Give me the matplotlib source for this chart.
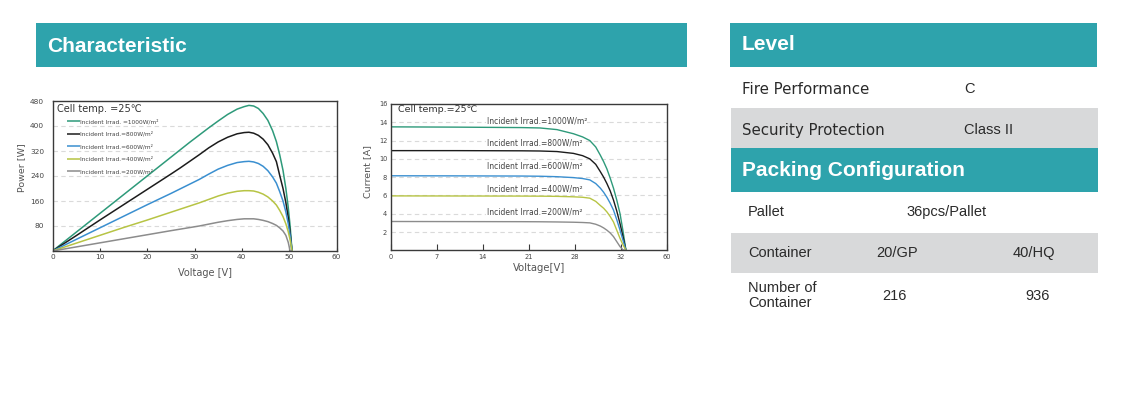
import matplotlib
matplotlib.use("Agg")
import matplotlib.pyplot as plt
from matplotlib.patches import Rectangle

W, H = 1137, 397

# ---------------- P-V chart data ----------------
pv_voltage = [0, 5, 10, 15, 20, 25, 27, 29, 31, 33, 35, 37, 39, 40.5, 41.5, 42.5,
              43.5, 44.5, 45.5, 46.5, 47.3, 48.0, 48.7, 49.3, 49.8, 50.2, 50.6]
pv_power_1000 = [0, 60, 120, 180, 240, 300, 324, 348, 371, 394, 416, 437, 454, 462, 466, 464,
                 456, 440, 418, 385, 350, 308, 258, 200, 140, 80, 0]
pv_power_800 = [0, 49, 99, 148, 197, 246, 266, 287, 308, 330, 349, 364, 375, 379, 380, 377,
                370, 358, 340, 313, 286, 242, 200, 155, 108, 60, 0]
pv_power_600 = [0, 37, 74, 111, 148, 184, 199, 214, 229, 246, 262, 274, 283, 286, 287, 285,
                280, 271, 257, 237, 217, 190, 160, 125, 88, 50, 0]
pv_power_400 = [0, 25, 50, 75, 99, 124, 134, 144, 154, 165, 176, 185, 191, 193, 193, 192,
                188, 182, 173, 160, 147, 130, 110, 87, 62, 36, 0]
pv_power_200 = [0, 13, 26, 39, 52, 65, 70, 75, 80, 86, 92, 97, 101, 103, 103, 103,
                101, 98, 94, 88, 82, 74, 64, 50, 28, 0, 0]
pv_labels = ["Incident Irrad. =1000W/m²", "Incident Irrad.=800W/m²",
             "Incident Irrad.=600W/m²", "Incident Irrad.=400W/m²",
             "Incident Irrad.=200W/m²"]
pv_xticks = [0, 10, 20, 30, 40, 50, 60]
pv_yticks = [80, 160, 240, 320, 400, 480]

# ---------------- I-V chart data ----------------
# voltage expressed in the chart's (irregularly labelled) axis positions
iv_voltage_pos = [0, 10, 20, 22.7, 25.3, 27.8, 29.2, 30.3, 31.2, 31.9, 32.4, 32.9,
                  33.4, 33.9, 34.4, 34.9, 35.35, 35.8]
iv_current_1000 = [13.5, 13.47, 13.42, 13.38, 13.2, 12.75, 12.4, 12.0, 11.3, 10.4, 9.7, 8.9,
                   7.9, 6.8, 5.5, 4.0, 2.1, 0]
iv_current_800 = [10.9, 10.9, 10.88, 10.86, 10.8, 10.6, 10.35, 10.0, 9.4, 8.6, 8.0, 7.3,
                  6.5, 5.5, 4.3, 2.9, 1.5, 0]
iv_current_600 = [8.15, 8.14, 8.12, 8.1, 8.05, 7.95, 7.85, 7.7, 7.3, 6.8, 6.35, 5.8,
                  5.15, 4.4, 3.35, 2.2, 1.1, 0]
iv_current_400 = [5.95, 5.94, 5.93, 5.92, 5.9, 5.85, 5.8, 5.7, 5.35, 4.9, 4.6, 4.2,
                  3.7, 3.1, 2.2, 1.3, 0.6, 0]
iv_current_200 = [3.15, 3.14, 3.13, 3.12, 3.1, 3.07, 3.04, 3.0, 2.85, 2.65, 2.45, 2.2,
                  1.9, 1.5, 0.95, 0.4, 0.05, 0]
iv_labels = ["Incident Irrad.=1000W/m²", "Incident Irrad.=800W/m²",
             "Incident Irrad.=600W/m²", "Incident Irrad.=400W/m²",
             "Incident Irrad.=200W/m²"]
iv_label_current = [14.1, 11.7, 9.2, 6.7, 4.15]
iv_xtick_pos = [0, 7, 14, 21, 28, 35, 42]
iv_xtick_labels = ["0", "7", "14", "21", "28", "32", "60"]
iv_yticks = [2, 4, 6, 8, 10, 12, 14, 16]

# ---------------- table data ----------------
level_rows = [("Fire Performance", "C"), ("Security Protection", "Class II")]
packing_pallet = ("Pallet", "36pcs/Pallet")
packing_container = ("Container", "20/GP", "40/HQ")
packing_number = ("Number of\nContainer", "216", "936")

colors = ["#2e9a7a", "#1c1c1c", "#3a8fd0", "#b7c444", "#8c8c8c"]
TEAL = "#2ea3ac"
GRAY = "#d8d9da"
TXT = "#2a2a2a"

plt.rcParams["font.family"] = ["DejaVu Sans"]

fig = plt.figure(figsize=(W / 100, H / 100), dpi=100)


def rect(l, t, r, b):
    return [l / W, 1 - b / H, (r - l) / W, (b - t) / H]


# background / layout axes in pixel coordinates
bg = fig.add_axes([0, 0, 1, 1], zorder=0)
bg.set_xlim(0, W)
bg.set_ylim(H, 0)
bg.axis("off")

# Characteristic bar
bg.add_patch(Rectangle((36, 23), 651, 44, color=TEAL, lw=0))
bg.text(47, 46.5, "Characteristic", color="white", fontsize=15, fontweight="bold",
        family="Liberation Sans", va="center", ha="left")

# Level block
bg.add_patch(Rectangle((730, 23), 367, 44, color=TEAL, lw=0))
bg.text(742, 45, "Level", color="white", fontsize=15, fontweight="bold",
        family="Liberation Sans", va="center", ha="left")
bg.add_patch(Rectangle((731, 108), 367, 40, color=GRAY, lw=0))
row_y = [89, 130.5]
for (name, val), y in zip(level_rows, row_y):
    bg.text(742, y, name, color=TXT, fontsize=10.8, va="center", ha="left",
            family="DejaVu Sans")
    bg.text(964, y, val, color=TXT, fontsize=10.5, va="center", ha="left",
            family="Liberation Sans")

# Packing configuration
bg.add_patch(Rectangle((731, 148), 367, 44, color=TEAL, lw=0))
bg.text(742, 171, "Packing Configuration", color="white", fontsize=15, fontweight="bold",
        family="Liberation Sans", va="center", ha="left")
bg.add_patch(Rectangle((731, 233), 367, 40, color=GRAY, lw=0))
bg.text(748, 212, packing_pallet[0], color=TXT, fontsize=10.5, va="center", ha="left",
        family="Liberation Sans")
bg.text(906, 212, packing_pallet[1], color=TXT, fontsize=10.5, va="center", ha="left",
        family="Liberation Sans")
bg.text(748, 253, packing_container[0], color=TXT, fontsize=10.5, va="center", ha="left",
        family="Liberation Sans")
bg.text(876, 253, packing_container[1], color=TXT, fontsize=10.5, va="center", ha="left",
        family="Liberation Sans")
bg.text(1013, 253, packing_container[2], color=TXT, fontsize=10.5, va="center", ha="left",
        family="Liberation Sans")
bg.text(748, 295.5, packing_number[0], color=TXT, fontsize=10.5, va="center", ha="left",
        family="Liberation Sans", linespacing=1.05)
bg.text(882, 296, packing_number[1], color=TXT, fontsize=10.5, va="center", ha="left",
        family="Liberation Sans")
bg.text(1025, 296, packing_number[2], color=TXT, fontsize=10.5, va="center", ha="left",
        family="Liberation Sans")

SPINE = "#3a3a3a"
LABEL = "#555555"
GRID = "#dadada"

# ---------------- P-V chart ----------------
ax1 = fig.add_axes(rect(52.5, 101, 336.5, 251), zorder=1)
ax1.set_xlim(0, 60)
ax1.set_ylim(0, 480)
pv_series = [pv_power_1000, pv_power_800, pv_power_600, pv_power_400, pv_power_200]
for s, c, lab in zip(pv_series, colors, pv_labels):
    ax1.plot(pv_voltage, s, color=c, lw=1.1, label=lab, solid_capstyle="butt")
ax1.set_xticks(pv_xticks)
ax1.set_yticks(pv_yticks)
ax1.set_yticklabels([str(v) for v in pv_yticks])
ax1.tick_params(axis="x", direction="in", length=2.5, width=0.8, colors=SPINE,
                labelsize=5.3, pad=2.5, labelcolor="#444")
ax1.tick_params(axis="y", length=0, labelsize=5.3, pad=6, labelcolor="#444")
for y in pv_yticks[:-1]:
    ax1.axhline(y, color=GRID, lw=0.8, ls=(0, (4, 3)), zorder=0)
for sp in ax1.spines.values():
    sp.set_color(SPINE)
    sp.set_linewidth(1.0)
ax1.text(1.0, 454, "Cell temp. =25℃", fontsize=7, color="#333", va="center", ha="left")
leg = ax1.legend(loc="upper left", bbox_to_anchor=(0.05, 0.882), frameon=False,
                 fontsize=4.2, handlelength=2.3, handletextpad=0.05, labelspacing=1.2,
                 borderpad=0, borderaxespad=0)
for t in leg.get_texts():
    t.set_color("#444")
for l in leg.get_lines():
    l.set_linewidth(1.1)
fig.text(21.7 / W, 1 - 168 / H, "Power [W]", rotation=90, fontsize=6.8, color=LABEL,
         va="center", ha="center")
fig.text(205 / W, 1 - 272.5 / H, "Voltage [V]", fontsize=7, color=LABEL,
         va="center", ha="center")

# ---------------- I-V chart ----------------
ax2 = fig.add_axes(rect(390.7, 104, 666.7, 250.3), zorder=1)
ax2.set_xlim(0, 42)
ax2.set_ylim(0, 16)
iv_series = [iv_current_1000, iv_current_800, iv_current_600, iv_current_400, iv_current_200]
for s, c in zip(iv_series, colors):
    ax2.plot(iv_voltage_pos, s, color=c, lw=1.0, solid_capstyle="butt")
ax2.set_xticks(iv_xtick_pos)
ax2.set_xticklabels(iv_xtick_labels)
ax2.set_yticks(iv_yticks)
ax2.set_yticklabels([str(v) for v in iv_yticks])
ax2.tick_params(axis="x", direction="in", length=4, width=0.8, colors=SPINE,
                labelsize=4.8, pad=2.5, labelcolor="#444")
ax2.tick_params(axis="y", length=0, labelsize=4.8, pad=2.5, labelcolor="#444")
for y in iv_yticks[:-1]:
    ax2.axhline(y, color=GRID, lw=0.8, ls=(0, (4, 3)), zorder=0)
for sp in ax2.spines.values():
    sp.set_color(SPINE)
    sp.set_linewidth(1.0)
ax2.text(1.1, 15.35, "Cell temp.=25℃", fontsize=6.8, color="#333", va="center", ha="left")
for lab, yv in zip(iv_labels, iv_label_current):
    ax2.text(14.6, yv, lab, fontsize=5.5, color="#444", va="center", ha="left",
             bbox=dict(facecolor="white", edgecolor="none", pad=0.3))
fig.text(368 / W, 1 - 172 / H, "Current [A]", rotation=90, fontsize=6.8, color=LABEL,
         va="center", ha="center")
fig.text(539 / W, 1 - 268 / H, "Voltage[V]", fontsize=7.2, color=LABEL,
         va="center", ha="center")

fig.savefig("out.png", dpi=100, facecolor="white")
